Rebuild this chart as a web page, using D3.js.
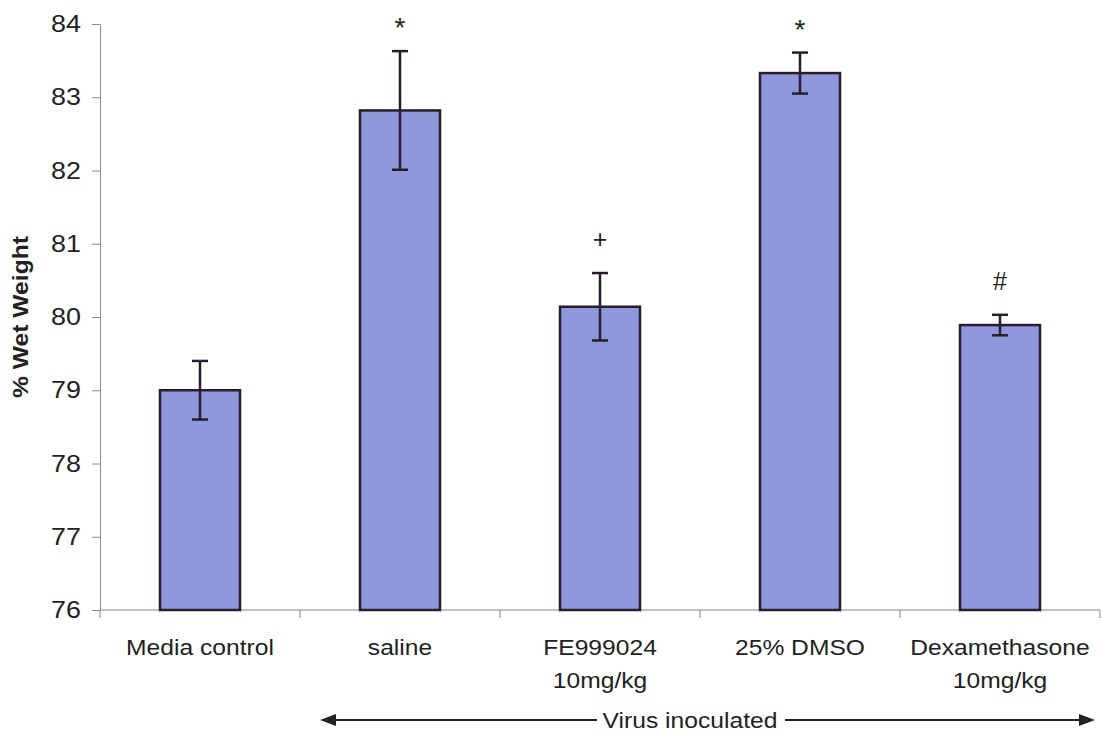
<!doctype html>
<html>
<head>
  <meta charset="utf-8">
  <title>% Wet Weight</title>
  <style>
    body { margin: 0; background: #fff; }
    text { font-family: 'Liberation Sans', Arial, sans-serif; fill: #222; }
  </style>
</head>
<body>
  <svg width="1101" height="736"></svg>

  <script src="https://d3js.org/d3.v7.min.js"></script>
  <script>
    const categories = ['Media control', 'saline', 'FE999024\n10mg/kg', '25% DMSO', 'Dexamethasone\n10mg/kg'];
    const values = [79.0, 82.82, 80.14, 83.33, 79.89];
    const errors = [0.4, 0.81, 0.46, 0.28, 0.14];
    const marks = ['', '*', '+', '*', '#'];
    const yTicks = [76, 77, 78, 79, 80, 81, 82, 83, 84];

    const svg = d3.select('svg');
    const margin = { top: 24, left: 100, bottom: 126, right: 1 };
    const width = +svg.attr('width') - margin.left - margin.right;
    const height = +svg.attr('height') - margin.top - margin.bottom;
    const g = svg.append('g').attr('transform', `translate(${margin.left}, ${margin.top})`);
    const stretch = 1.12; // text in the original is a bit wide

    const x = d3.scaleBand()
      .domain(categories)
      .range([0, width])
      .paddingInner(0.6)
      .paddingOuter(0.3);
    const y = d3.scaleLinear()
      .domain([76, 84])
      .range([height, 0]);

    const data = categories.map((c, i) => ({ c, v: values[i], e: errors[i], m: marks[i] }));

    // y axis
    const yAxis = g.append('g')
      .call(d3.axisLeft(y).tickValues(yTicks).tickSize(8).tickSizeOuter(0));
    yAxis.selectAll('text')
      .style('font-size', '24px')
      .attr('fill', '#222')
      .attr('x', 0)
      .attr('transform', `translate(-19, 0) scale(${stretch}, 1)`);
    yAxis.selectAll('line, path').attr('stroke', '#888');

    // x axis (ticks between categories)
    const xAxis = g.append('g').attr('transform', `translate(0, ${height})`);
    xAxis.append('line')
      .attr('x1', 0).attr('x2', width)
      .attr('stroke', '#888');
    const step = x.step();
    xAxis.selectAll('.sep')
      .data(d3.range(categories.length + 1))
      .join('line')
      .attr('x1', i => i * step).attr('x2', i => i * step)
      .attr('y1', 0).attr('y2', 8)
      .attr('stroke', '#888');

    xAxis.selectAll('.lab')
      .data(categories)
      .join('text')
      .attr('text-anchor', 'middle')
      .attr('transform', d => `translate(${x(d) + x.bandwidth() / 2}, 45) scale(${stretch}, 1)`)
      .style('font-size', '22px')
      .selectAll('tspan')
      .data(d => d.split('\n'))
      .join('tspan')
      .attr('x', 0)
      .attr('dy', (d, i) => i === 0 ? 0 : 33)
      .text(d => d);

    // bars
    g.selectAll('.bar')
      .data(data)
      .join('rect')
      .attr('x', d => x(d.c))
      .attr('y', d => y(d.v))
      .attr('width', x.bandwidth())
      .attr('height', d => height - y(d.v))
      .attr('fill', '#9098dc')
      .attr('stroke', '#2a1c2c')
      .attr('stroke-width', 2.5);

    // error bars
    const eb = g.selectAll('.err')
      .data(data)
      .join('g')
      .attr('transform', d => `translate(${x(d.c) + x.bandwidth() / 2}, 0)`)
      .attr('stroke', '#2a1c2c')
      .attr('stroke-width', 2.5);
    eb.append('line')
      .attr('y1', d => y(d.v + d.e)).attr('y2', d => y(d.v - d.e));
    eb.append('line')
      .attr('x1', -8).attr('x2', 8)
      .attr('y1', d => y(d.v + d.e)).attr('y2', d => y(d.v + d.e));
    eb.append('line')
      .attr('x1', -8).attr('x2', 8)
      .attr('y1', d => y(d.v - d.e)).attr('y2', d => y(d.v - d.e));

    // significance marks
    g.selectAll('.mark')
      .data(data.filter(d => d.m))
      .join('text')
      .attr('x', d => x(d.c) + x.bandwidth() / 2)
      .attr('y', d => y(d.v + d.e) - (d.m === '*' ? 14 : 25))
      .attr('text-anchor', 'middle')
      .style('font-size', d => d.m === '*' ? '28px' : '25px')
      .text(d => d.m);

    // y title
    svg.append('text')
      .attr('transform', `translate(28, ${margin.top + height / 2}) rotate(-90) scale(${stretch}, 1)`)
      .attr('text-anchor', 'middle')
      .style('font-size', '22px')
      .style('font-weight', 'bold')
      .text('% Wet Weight');

    // virus inoculated arrow
    const ay = margin.top + height + 110;
    const ax1 = margin.left + x(categories[1]) - 40;
    const ax2 = margin.left + width - 5;
    const amid = margin.left + x(categories[2]) + x.bandwidth() / 2 + 90;
    const arrow = svg.append('g');
    arrow.append('line').attr('x1', ax1 + 14).attr('x2', amid - 93).attr('y1', ay).attr('y2', ay)
      .attr('stroke', '#222').attr('stroke-width', 2);
    arrow.append('line').attr('x1', amid + 95).attr('x2', ax2 - 14).attr('y1', ay).attr('y2', ay)
      .attr('stroke', '#222').attr('stroke-width', 2);
    arrow.append('path').attr('d', `M${ax1},${ay}L${ax1 + 16},${ay - 6}L${ax1 + 16},${ay + 6}Z`).attr('fill', '#222');
    arrow.append('path').attr('d', `M${ax2},${ay}L${ax2 - 16},${ay - 6}L${ax2 - 16},${ay + 6}Z`).attr('fill', '#222');
    arrow.append('text')
      .attr('transform', `translate(${amid}, ${ay + 8}) scale(${stretch}, 1)`)
      .attr('text-anchor', 'middle')
      .style('font-size', '22px')
      .text('Virus inoculated');
  </script>
</body>
</html>
